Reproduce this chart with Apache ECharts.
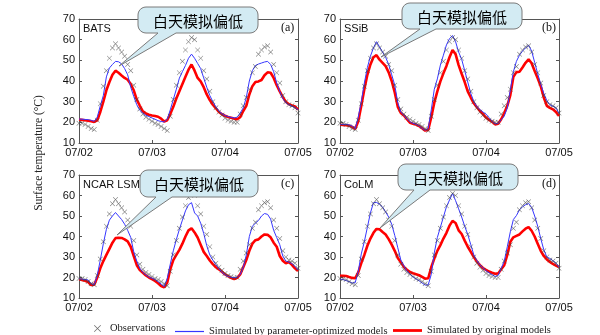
<!DOCTYPE html>
<html><head><meta charset="utf-8">
<script src="https://cdn.jsdelivr.net/npm/echarts@6/dist/echarts.min.js"></script>
<style>html,body{margin:0;padding:0;background:#fff}#c{width:600px;height:335px}</style>
</head><body><div id="c"></div>
<script>
const hours = [0,1,2,3,4,5,6,7,8,9,10,11,12,13,14,15,16,17,18,19,20,21,22,23,24,25,26,27,28,29,30,31,32,33,34,35,36,37,38,39,40,41,42,43,44,45,46,47,48,49,50,51,52,53,54,55,56,57,58,59,60,61,62,63,64,65,66,67,68,69,70,71,72];
const tickLabels = ['07/02','07/03','07/04','07/05'];
const modelNames = ['BATS','SSiB','NCAR LSM','CoLM'];
const panelTags = ['(a)','(b)','(c)','(d)'];
const seriesNames = ['Observations','Simulated by parameter-optimized models','Simulated by original models'];
const calloutText = '白天模拟偏低';
const yAxisTitle = 'Surface temperature (°C)';

const observations = [19.5,19.5,19,18,17,16.5,21,29,37.5,45,51,56,58,56,54,52,48,45,38,31,26.5,24,22.5,21.5,20.5,19.5,19,18,17,16,23,31,38,44,49.5,55,59,61,60,55,51,45,41,35,30,27,25,23.5,22,21,20.5,20,20,24,28,32,36,44,47,53,55,56.5,57,54,48,44,39,33,30,28.5,28,27,24.5];

const batsOpt = [21.6,21.5,21.4,21.3,21,20.5,22.5,28,33,42,46.3,48,49.5,49.3,48.3,46,43,37,32.5,28.5,25.8,24.5,23.4,22.8,22.1,21.5,20.8,20.4,20.2,21.5,26,31,36,41.4,44.5,47.5,51,53,51,48.5,46,41.5,37,33,30,27.5,25.5,24.2,23.3,22.8,22.4,22.1,22.5,24.5,27,32,40,45,47.5,48.2,48.7,49.2,49.5,48,44.5,39,35,31.5,29.5,28.5,27.8,27.2,26.1];
const batsOrig = [21.3,21.2,21,20.8,20.5,20.2,21,25,30,35.5,39.5,43,45,44,42.7,41.5,40.6,38.5,35.5,31,28,25.3,24.3,23.7,23.3,23.1,22.7,21.8,20.4,21,24,27.5,31.5,35,38.5,42,45.5,48,45,41.5,39.8,37,33.5,30.8,28.5,26.8,25,23.9,23.2,22.6,22.2,21.8,21.5,22.5,25.5,28,33.5,37.5,39.5,39.8,40.5,42.8,44.2,44,41.5,38,35,32.2,30,28.8,28.2,27.7,26.1];

const ssibOpt = [19,19,19,18.8,18.2,17,22.5,30,39,46.5,52,56,59,56.5,54,51.5,48,43,38,29.5,25,23.5,21.6,20.3,19.5,19.1,18.3,17.1,16.2,17,26,36,41,47.7,52.5,57.5,60.5,62,59,54,50.5,45,39.5,34,30,27.6,26.2,25,24,22.3,20.5,19.3,19.5,21.2,23,27,35.7,44.5,49.5,52.5,54.5,56,57.3,54.5,49,43.5,38.5,34,30.5,28.6,27.8,27,24.4];
const ssibOrig = [18.8,18.7,18.6,18.4,17.8,16.8,20.5,28,36,43,48,51.5,52.5,50.3,48.8,47.2,44.2,40,34.5,27.5,24.5,23.3,21.5,19.8,19.3,18.9,18.2,17.1,16,16.3,22.5,29.5,35,39.8,43.7,47.3,51.5,55,53,47.7,43.5,39.5,35,32,29.2,27.3,25.5,24,22.3,21.2,20.3,19,19.3,21.5,24.5,28,33.2,42,44.3,44.5,46.5,48.8,50.5,48.6,44.8,41.3,37.5,32,28,27,26.3,25,23.1];

const ncarOpt = [19.4,19.2,19,18.8,17,16.5,21,28.5,36.5,43.5,48,50,51.7,50,48.3,46,43,39.6,32.5,28,24.5,22.5,21.3,20.2,19.7,19,18,16.8,15.6,19.5,26.5,33,38.5,43.5,48,52.5,55.5,56.5,51.5,50,46.5,41.5,35.5,31,28.5,26.3,24.3,22.5,21.3,20.5,20.1,19.9,20,21.5,25,31,40,45,46.5,47.8,50,51.2,50.8,48.5,43,39.5,36,30.5,28,27.5,26.8,25.5,23.7];
const ncarOrig = [19.1,18.8,18.4,17.8,16.3,16.5,20,24.5,28,31,34,37,39.2,39.4,39.3,38.6,37.6,35,30.5,26,23.6,22.3,21,20,19.2,18.3,17.2,15.8,15.2,17.5,24,28.5,31,33.5,36.5,40,43,44,42,39.5,36,32.5,30.5,28.3,26.5,25,24,22.8,21.5,20.7,19.8,19.2,19.8,21.5,25,28.5,33,36.5,38.2,38.6,40,41,40.8,39.6,37,35,30.5,28.2,27,27.5,26.2,24.5,23.2];

const colmOpt = [19.2,19,18.5,18,17.3,17.5,23,31.5,37.5,44.5,51.5,56.5,56.6,55.8,54.3,52,49.5,46,40.5,34.5,28.5,25.8,23.2,21.7,20.3,19.3,18.4,17.3,16.3,16.4,21.5,32,39.5,44.5,49.5,54.5,57.8,61,57.5,53.5,49.5,45,41,36,31,28.2,26.2,24.7,23.3,22.3,21.4,20.5,21,24.5,28,35,42.3,48.3,50.2,53,54.5,55.5,56.1,54.2,50,45,39,33.5,30,29.3,28.2,27,25.1];
const colmOrig = [20.8,20.8,20.7,20.2,19.8,19.6,22.5,27,31,35.5,39,41.8,43.7,43.5,42.2,41,38.7,36,33,29.5,27.5,25.2,23.8,22.7,22.1,21.6,21.1,20.3,19.4,19.6,25,29.2,33,35.8,39,41.8,45.3,47.6,46.6,43,41.2,38,35,32.5,30,27.8,26,24.6,23.7,22.9,22.3,21.8,22,24,26,31,37.4,39.6,40.3,41,42.5,43.8,44.6,42.8,40,36.5,33,30.5,28.8,27.6,26.6,25.8,25.1];

const optSets = [batsOpt, ssibOpt, ncarOpt, colmOpt];
const origSets = [batsOrig, ssibOrig, ncarOrig, colmOrig];

// layout (styling, not data)
const grids = [
  {left:79, top:19, width:219, height:124},
  {left:340, top:19, width:219, height:124},
  {left:79, top:175, width:219, height:123},
  {left:340, top:175, width:219, height:123}
];
const callouts = [
  {x:138, y:7, w:120, h:26, b1:158, b2:176, tx:119, ty:66},
  {x:402, y:3, w:120, h:26, b1:420, b2:436, tx:381, ty:57},
  {x:140, y:170, w:118, h:27, b1:156, b2:172, tx:117, ty:235},
  {x:398, y:164, w:120, h:26, b1:414, b2:430, tx:380, ty:228}
];

const BLUE = '#3636ff', RED = '#ff0000', AX = '#555';
const XSYM = 'path://M0,0.7L0.7,0L5,4.3L9.3,0L10,0.7L5.7,5L10,9.3L9.3,10L5,5.7L0.7,10L0,9.3L4.3,5Z';
const sansF = 'Liberation Sans, Arial, sans-serif';
const serifF = 'Liberation Serif, Times New Roman, serif';

const pair = arr => hours.map((h, i) => [h, arr[i]]);

function arcPts(cx, cy, r, a0, a1) {
  const pts = [];
  for (let k = 0; k <= 6; k++) {
    const a = a0 + (a1 - a0) * k / 6;
    pts.push([cx + r * Math.cos(a), cy + r * Math.sin(a)]);
  }
  return pts;
}
function bubblePoints(c) {
  const r = 8, P = Math.PI;
  let pts = [];
  pts = pts.concat(arcPts(c.x + r, c.y + r, r, P, 1.5 * P));
  pts = pts.concat(arcPts(c.x + c.w - r, c.y + r, r, 1.5 * P, 2 * P));
  pts = pts.concat(arcPts(c.x + c.w - r, c.y + c.h - r, r, 0, 0.5 * P));
  pts.push([c.b2, c.y + c.h], [c.tx, c.ty], [c.b1, c.y + c.h]);
  pts = pts.concat(arcPts(c.x + r, c.y + c.h - r, r, 0.5 * P, P));
  return pts;
}

const legendText = {fontFamily:serifF, fontSize:10.5, color:'#222'};
const option = {
  animation: false,
  backgroundColor: '#fff',
  grid: grids.map(g => Object.assign({show:false, containLabel:false}, g)),
  xAxis: [], yAxis: [], series: [], graphic: [],
  legend: [
    {data:[{name:seriesNames[0], icon:XSYM}], left:89, top:318, itemWidth:7, itemHeight:7,
     textStyle:Object.assign({padding:[0,0,0,4]}, legendText), selectedMode:false},
    {data:[{name:seriesNames[1], icon:'rect'}], left:170, top:321, itemWidth:29, itemHeight:1.2,
     textStyle:legendText, selectedMode:false},
    {data:[{name:seriesNames[2], icon:'rect'}], left:388, top:320, itemWidth:29, itemHeight:2.8,
     textStyle:legendText, selectedMode:false}
  ]
};

for (let p = 0; p < 4; p++) {
  const xb = option.xAxis.length, yb = option.yAxis.length;
  const xCommon = {gridIndex:p, type:'value', min:0, max:72, interval:24,
    axisLine:{show:true, onZero:false, lineStyle:{color:AX, width:1}},
    axisTick:{show:true, inside:true, length:3, lineStyle:{color:AX}},
    splitLine:{show:false}};
  option.xAxis.push(Object.assign({}, xCommon, {position:'bottom',
    axisLabel:{show:true, margin:4, fontFamily:sansF, fontSize:11, color:'#111',
      formatter: v => tickLabels[Math.round(v/24)]}}));
  option.xAxis.push(Object.assign({}, xCommon, {position:'top', axisLabel:{show:false}}));
  const yCommon = {gridIndex:p, type:'value', min:10, max:70, interval:10,
    axisLine:{show:true, onZero:false, lineStyle:{color:AX, width:1}},
    axisTick:{show:true, inside:true, length:3, lineStyle:{color:AX}},
    splitLine:{show:false}};
  option.yAxis.push(Object.assign({}, yCommon, {position:'left',
    axisLabel:{show:true, margin:4, fontFamily:sansF, fontSize:11, color:'#111'}}));
  option.yAxis.push(Object.assign({}, yCommon, {position:'right', axisLabel:{show:false}}));

  option.series.push({name:seriesNames[2], type:'line', xAxisIndex:xb, yAxisIndex:yb,
    data:pair(origSets[p]), showSymbol:false, symbol:'none', color:RED,
    lineStyle:{color:RED, width:2.6}, z:2});
  option.series.push({name:seriesNames[1], type:'line', xAxisIndex:xb, yAxisIndex:yb,
    data:pair(optSets[p]), showSymbol:false, symbol:'none', color:BLUE,
    lineStyle:{color:BLUE, width:1}, z:3});
  option.series.push({name:seriesNames[0], type:'scatter', xAxisIndex:xb, yAxisIndex:yb,
    data:pair(observations), symbol:XSYM, symbolSize:5, color:'#444',
    itemStyle:{color:'#444'}, z:4});

  const g = grids[p];
  option.graphic.push({type:'text', left:g.left+4, top:g.top+4, z:50,
    style:{text:modelNames[p], font:'11px ' + sansF, fill:'#111'}});
  option.graphic.push({type:'text', left:g.left+g.width-17, top:g.top+3, z:50,
    style:{text:panelTags[p], font:'12px ' + serifF, fill:'#111'}});

  const c = callouts[p];
  option.graphic.push({type:'polygon', z:100, shape:{points:bubblePoints(c)},
    style:{fill:'#d3ebf3', stroke:'#7a7a7a', lineWidth:1}});
  option.graphic.push({type:'text', z:101, x:c.x+c.w/2, y:c.y+c.h/2+1,
    style:{text:calloutText, fontSize:15, fontFamily:'Noto Sans CJK SC', fill:'#000',
      align:'center', verticalAlign:'middle'}});
}

option.graphic.push({type:'text', x:39, y:153, rotation:Math.PI/2, z:50,
  style:{text:yAxisTitle, font:'11.5px ' + serifF, fill:'#222', align:'center', verticalAlign:'middle'}});

const chart = echarts.init(document.getElementById('c'), null, {renderer:'canvas'});
chart.setOption(option);
</script></body></html>
